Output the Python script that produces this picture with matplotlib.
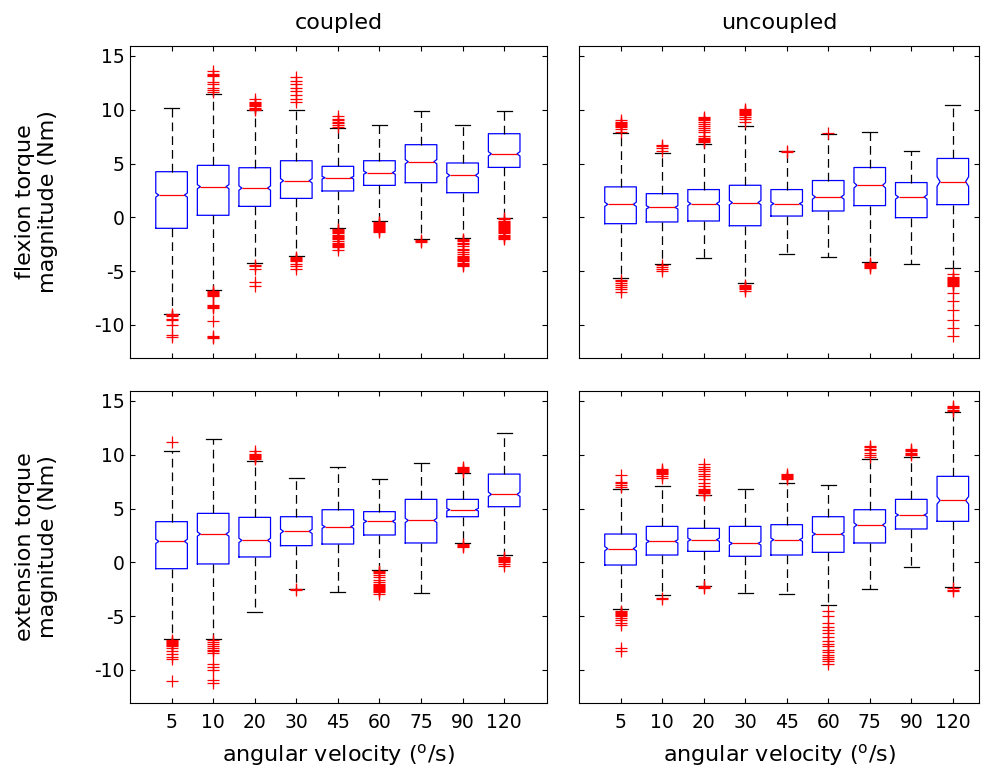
import numpy as np
import matplotlib.pyplot as plt

plt.rcParams['font.family'] = ['DejaVu Sans']
plt.rcParams['mathtext.fontset'] = 'dejavusans'
plt.rcParams['axes.unicode_minus'] = False

velocities = ['5', '10', '20', '30', '45', '60', '75', '90', '120']

# flexion, coupled
fc_hi = [10.15, 11.46, 9.94, 10.0, 8.3, 8.54, 9.9, 8.54, 9.9]
fc_q3 = [4.24, 4.83, 4.61, 5.26, 4.74, 5.26, 6.75, 5.05, 7.77]
fc_med = [2.07, 2.85, 2.72, 3.40, 3.68, 4.15, 5.17, 3.90, 5.90]
fc_q1 = [-1.02, 0.19, 1.02, 1.76, 2.45, 2.97, 3.22, 2.29, 4.64]
fc_lo = [-8.95, -6.75, -4.2, -3.6, -1.02, -0.34, -2.0, -1.95, -0.1]
fc_ci = [0.19, 0.19, 0.2, 0.2, 0.12, 0.15, 0.2, 0.2, 0.2]
fc_out = [
    [-9.0, -9.1, -9.2, -9.4, -9.5, -10.0, -10.9, -11.1],
    [13.6, 13.3, 13.2, 13.1, 12.6, 12.4, 12.0, 11.8, 11.6,
     -6.8, -6.9, -7.0, -7.1, -7.2, -7.3, -8.1, -8.2, -8.3, -8.4, -9.6, -11.0, -11.1, -11.2],
    [11.0, 10.7, 10.6, 10.5, 10.4, 10.3, 10.2, 10.1, 10.0, -4.4, -4.5, -4.8, -6.0, -6.4],
    [13.0, 12.7, 12.4, 12.0, 11.7, 11.4, 11.0, 10.7,
     -3.7, -3.8, -3.9, -4.0, -4.1, -4.3, -4.5, -4.8],
    [9.4, 9.1, 9.0, 8.9, 8.8, 8.6, 8.4,
     -1.1, -1.2, -1.3, -1.4, -1.5, -1.6, -1.7, -1.8, -1.9, -2.0, -2.2, -2.4, -2.5,
     -2.6, -2.7, -2.8, -3.0],
    [-0.4, -0.5, -0.6, -0.7, -0.8, -0.9, -1.0, -1.1, -1.2, -1.3, -1.4],
    [-2.1, -2.2, -2.3],
    [-2.0, -2.1, -2.2, -2.4, -2.5, -2.7, -2.9, -3.0, -3.2, -3.4, -3.6, -3.7, -3.8,
     -3.9, -4.0, -4.1, -4.2, -4.3, -4.4, -4.5],
    [-0.1, -0.2, -0.3, -0.4, -0.5, -0.6, -0.7, -0.8, -0.9, -1.0, -1.1, -1.2, -1.3,
     -1.4, -1.5, -1.6, -1.7, -1.8, -1.9, -2.0],
]

# flexion, uncoupled
fu_hi = [7.8, 6.02, 6.86, 8.5, 6.12, 7.73, 7.89, 6.21, 10.43]
fu_q3 = [2.83, 2.2, 2.58, 2.98, 2.58, 3.42, 4.63, 3.23, 5.47]
fu_med = [1.21, 0.93, 1.27, 1.37, 1.27, 1.89, 2.98, 1.89, 3.32]
fu_q1 = [-0.59, -0.43, -0.34, -0.78, 0.12, 0.59, 1.09, -0.03, 1.18]
fu_lo = [-5.62, -4.32, -3.82, -6.12, -3.38, -3.73, -4.13, -4.32, -4.69]
fu_ci = [0.2, 0.15, 0.18, 0.2, 0.15, 0.2, 0.25, 0.2, 0.45]
fu_out = [
    [9.0, 8.9, 8.8, 8.7, 8.6, 8.5, 8.35, 8.2, 7.95, -5.8, -5.9, -6.1, -6.3, -6.5, -6.7, -6.9],
    [6.7, 6.6, 6.4, 6.2, -4.4, -4.6, -4.8, -5.0],
    [9.3, 9.2, 9.1, 9.0, 8.9, 8.7, 8.5, 8.3, 8.1, 7.9, 7.6, 7.4, 7.3, 7.2, 7.1, 7.0],
    [10.1, 10.0, 9.9, 9.8, 9.7, 9.6, 9.5, 9.3, 9.1, 8.9,
     -6.3, -6.4, -6.5, -6.6, -6.7, -6.8],
    [6.1, 6.2],
    [7.8],
    [-4.2, -4.3, -4.4, -4.5, -4.6, -4.7],
    [],
    [-5.3, -5.5, -5.6, -5.7, -5.8, -5.9, -6.0, -6.1, -6.2, -6.3, -6.4,
     -7.0, -7.8, -8.6, -9.5, -10.3, -11.0],
]

# extension, coupled
ec_hi = [10.34, 11.49, 9.41, 7.86, 8.89, 7.71, 9.2, 8.27, 12.04]
ec_q3 = [3.78, 4.55, 4.18, 4.24, 4.89, 4.71, 5.85, 5.85, 8.2]
ec_med = [1.95, 2.63, 2.04, 2.88, 3.31, 3.81, 3.9, 4.89, 6.32]
ec_q1 = [-0.59, -0.15, 0.5, 1.55, 1.7, 2.54, 1.8, 4.24, 5.17]
ec_lo = [-7.09, -7.09, -4.64, -2.45, -2.79, -0.68, -2.88, 1.76, 0.68]
ec_ci = [0.2, 0.2, 0.2, 0.2, 0.15, 0.15, 0.2, 0.12, 0.2]
ec_out = [
    [11.2, -7.2, -7.3, -7.4, -7.5, -7.6, -7.7, -7.8, -8.0, -8.2, -8.5, -8.8, -9.0, -11.0],
    [-7.2, -7.4, -7.6, -7.8, -8.0, -8.1, -8.2, -8.4, -9.4, -9.7, -10.0, -10.9, -11.2],
    [10.3, 10.1, 10.0, 9.9, 9.8, 9.7, 9.6],
    [-2.5, -2.6],
    [],
    [-0.8, -0.9, -1.0, -1.2, -1.4, -1.6, -1.8, -2.0, -2.1, -2.2, -2.3, -2.4, -2.5,
     -2.6, -2.7, -2.8, -2.9],
    [],
    [8.9, 8.8, 8.7, 8.6, 8.5, 8.4, 1.7, 1.6, 1.5, 1.4],
    [0.5, 0.4, 0.3, 0.2, 0.1, 0.0, -0.2, -0.3],
]

# extension, uncoupled
eu_hi = [6.78, 7.12, 6.25, 6.78, 7.34, 7.18, 9.6, 9.81, 14.0]
eu_q3 = [2.63, 3.34, 3.16, 3.34, 3.5, 4.24, 4.89, 5.85, 7.99]
eu_med = [1.27, 1.95, 2.1, 1.76, 2.1, 2.63, 3.47, 4.4, 5.76]
eu_q1 = [-0.25, 0.68, 1.02, 0.56, 0.68, 0.93, 1.8, 3.1, 3.81]
eu_lo = [-4.37, -3.07, -2.2, -2.88, -2.97, -4.0, -2.45, -0.4, -2.29]
eu_ci = [0.2, 0.15, 0.15, 0.15, 0.15, 0.15, 0.2, 0.15, 0.35]
eu_out = [
    [8.1, 7.5, 7.4, 7.2, 7.0, -4.5, -4.6, -4.7, -4.8, -4.9, -5.0, -5.2, -5.4, -5.6,
     -5.8, -8.0, -8.2],
    [8.7, 8.6, 8.5, 8.4, 8.3, 8.2, 8.0, 7.8, -3.3, -3.4],
    [9.1, 8.9, 8.7, 8.5, 8.2, 8.0, 7.7, 7.4, 7.1, 6.8, 6.7, 6.6, 6.5, 6.4, 6.3,
     -2.2, -2.3, -2.4],
    [],
    [8.2, 8.1, 8.0, 7.9, 7.8, 7.7],
    [-4.5, -5.0, -5.6, -6.0, -6.3, -6.6, -6.9, -7.3, -7.6, -7.8, -8.1, -8.3, -8.6,
     -8.8, -9.0, -9.2, -9.4],
    [10.8, 10.7, 10.5, 10.4, 10.2, 10.0, 9.8],
    [10.5, 10.4, 10.3, 10.2, 10.1, 10.0],
    [14.5, 14.4, 14.3, 14.2, 14.1, -2.4, -2.6, -2.7],
]

panels = [
    (fc_lo, fc_q1, fc_med, fc_q3, fc_hi, fc_ci, fc_out),
    (fu_lo, fu_q1, fu_med, fu_q3, fu_hi, fu_ci, fu_out),
    (ec_lo, ec_q1, ec_med, ec_q3, ec_hi, ec_ci, ec_out),
    (eu_lo, eu_q1, eu_med, eu_q3, eu_hi, eu_ci, eu_out),
]

fig = plt.figure(figsize=(9.85, 7.75), dpi=100)
W, H = 985.0, 775.0
rects = [
    (130, 46, 547, 358), (579, 46, 979, 358),
    (130, 391, 547, 703), (579, 391, 979, 703),
]
box_w = 0.76
positions = np.arange(1, 10)

for k, (lo, q1, med, q3, hi, ci, out) in enumerate(panels):
    x0, y0, x1, y1 = rects[k]
    ax = fig.add_axes([x0 / W, 1 - y1 / H, (x1 - x0) / W, (y1 - y0) / H])
    stats = []
    for i in range(9):
        stats.append(dict(med=med[i], q1=q1[i], q3=q3[i], whislo=lo[i], whishi=hi[i],
                          cilo=med[i] - ci[i], cihi=med[i] + ci[i],
                          fliers=np.array(out[i])))
    bp = ax.bxp(stats, positions=positions, widths=box_w, capwidths=0.36,
                shownotches=True, manage_ticks=False,
                boxprops=dict(color='blue', linewidth=0.9),
                medianprops=dict(color='red', linewidth=0.9),
                whiskerprops=dict(color='black', linestyle=(0, (7, 4)), linewidth=0.9),
                capprops=dict(color='black', linewidth=0.9),
                flierprops=dict(marker='+', markeredgecolor='red', markersize=8,
                                markeredgewidth=0.9, linestyle='none'))
    # shallow MATLAB-like notches
    nd = box_w * 0.405
    for pos, box, mline in zip(positions, bp['boxes'], bp['medians']):
        xs = np.array(box.get_xdata(), dtype=float)
        inner = np.abs(xs - pos) < box_w * 0.5 - 1e-9
        xs[inner] = pos + np.sign(xs[inner] - pos) * nd
        box.set_xdata(xs)
        mline.set_xdata([pos - nd, pos + nd])

    ax.set_ylim(-13.07, 15.92)
    ax.set_xlim(0, 10.03 if k % 2 == 0 else 9.63)
    ax.set_yticks([-10, -5, 0, 5, 10, 15])
    ax.set_xticks(positions)
    ax.tick_params(direction='in', length=3.5, top=True, right=True, labelsize=13.5,
                   width=0.8)
    ax.tick_params(axis='x', pad=7)
    ax.tick_params(axis='y', pad=4)
    for s in ax.spines.values():
        s.set_linewidth(0.8)
    if k < 2:
        ax.set_xticklabels([])
    else:
        ax.set_xticklabels(velocities)
        ax.set_xlabel(r'angular velocity ($^{\mathrm{o}}$/s)', fontsize=16)
        ax.xaxis.set_label_coords(0.5, -0.125)
    if k % 2 == 1:
        ax.set_yticklabels([])
    else:
        ax.set_ylabel(['flexion torque\nmagnitude (Nm)',
                       'extension torque\nmagnitude (Nm)'][k // 2], fontsize=16)
        ax.yaxis.set_label_coords(-0.173, 0.5)
    if k == 0:
        ax.set_title('coupled', fontsize=16, pad=12.5)
    if k == 1:
        ax.set_title('uncoupled', fontsize=16, pad=12.5)

fig.savefig('out.png', dpi=100)
